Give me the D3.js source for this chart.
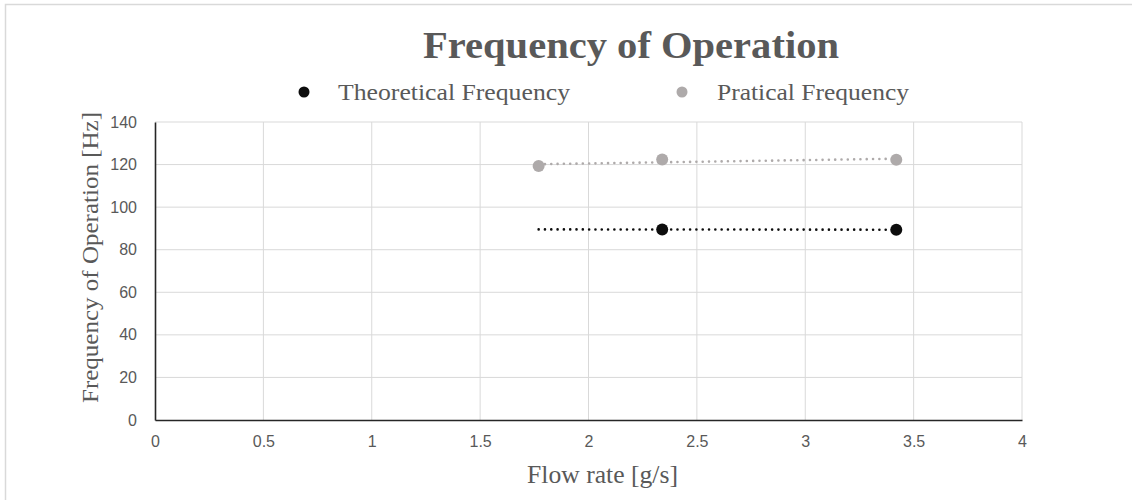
<!DOCTYPE html>
<html>
<head>
<meta charset="utf-8">
<script src="https://cdn.jsdelivr.net/npm/d3@7"></script>
<style>
  html, body { margin: 0; padding: 0; background: #fff; }
  svg { display: block; }
</style>
</head>
<body>
<svg id="chart" width="1132" height="500"></svg>
<script>
// Measured flow rates and operating frequencies
const flowRate = [1.77, 2.34, 3.42];
const theoretical = [null, 89.5, 89.4];
const practical = [119.3, 122.4, 122.3];

const xTicks = [0, 0.5, 1, 1.5, 2, 2.5, 3, 3.5, 4];
const yTicks = [0, 20, 40, 60, 80, 100, 120, 140];

const seriesNames = ["Theoretical Frequency", "Pratical Frequency"];
const seriesColors = ["#0d0d0d", "#aeaaaa"];

const W = 1132, H = 500;
const margin = { left: 155, right: 110, top: 122, bottom: 80 };

const svg = d3.select("#chart");

// Outer chart frame
svg.append("path")
  .attr("d", `M5.5,${H + 2} V4.5 H${W + 2}`)
  .attr("fill", "none")
  .attr("stroke", "#d9d9d9")
  .attr("stroke-width", 1.5);

const x = d3.scaleLinear().domain([0, 4]).range([margin.left, W - margin.right]);
const y = d3.scaleLinear().domain([0, 140]).range([H - margin.bottom, margin.top]);

const serif = "'Liberation Serif', 'DejaVu Serif', serif";
const sans = "'Liberation Sans Narrow', 'Liberation Sans', Arial, sans-serif";
const textColor = "#595959";

// Gridlines
const grid = svg.append("g");
grid.selectAll("line.h").data(yTicks.filter(d => d > 0)).join("line")
  .attr("x1", x(0)).attr("x2", x(4))
  .attr("y1", d => y(d)).attr("y2", d => y(d))
  .attr("stroke", "#d9d9d9").attr("stroke-width", 1);
grid.selectAll("line.v").data(xTicks.filter(d => d > 0)).join("line")
  .attr("y1", y(0)).attr("y2", y(140))
  .attr("x1", d => x(d)).attr("x2", d => x(d))
  .attr("stroke", "#d9d9d9").attr("stroke-width", 1);

// Axes
const xAxis = svg.append("g")
  .attr("transform", `translate(0,${y(0)})`)
  .call(d3.axisBottom(x).tickValues(xTicks).tickSize(0).tickPadding(16).tickFormat(d3.format("")));
const yAxis = svg.append("g")
  .attr("transform", `translate(${x(0)},0)`)
  .call(d3.axisLeft(y).tickValues(yTicks).tickSize(0).tickPadding(18));

[xAxis, yAxis].forEach(a => {
  a.select(".domain").attr("stroke", "#262626").attr("stroke-width", 1.6);
  a.selectAll("text")
    .attr("fill", textColor)
    .style("font-family", sans)
    .style("font-size", "16px");
});

// Least-squares trendline over each series' defined points, drawn across the full flow-rate range
function trend(values) {
  const pts = flowRate.map((fx, i) => [fx, values[i]]).filter(p => p[1] != null);
  const mx = d3.mean(pts, p => p[0]), my = d3.mean(pts, p => p[1]);
  const sxy = d3.sum(pts, p => (p[0] - mx) * (p[1] - my));
  const sxx = d3.sum(pts, p => (p[0] - mx) ** 2);
  const b = sxy / sxx, a = my - b * mx;
  const [lo, hi] = d3.extent(flowRate);
  return [[lo, a + b * lo], [hi, a + b * hi]];
}

const line = d3.line().x(d => x(d[0])).y(d => y(d[1]));
const allSeries = [theoretical, practical];

allSeries.forEach((vals, si) => {
  svg.append("path")
    .datum(trend(vals))
    .attr("d", line)
    .attr("fill", "none")
    .attr("stroke", seriesColors[si])
    .attr("stroke-width", 2.6)
    .attr("stroke-linecap", "round")
    .attr("stroke-dasharray", "0.01 6.3");
});

allSeries.forEach((vals, si) => {
  svg.append("g").selectAll("circle")
    .data(flowRate.map((fx, i) => [fx, vals[i]]).filter(p => p[1] != null))
    .join("circle")
    .attr("cx", d => x(d[0]))
    .attr("cy", d => y(d[1]))
    .attr("r", 6)
    .attr("fill", seriesColors[si]);
});

// Title
svg.append("text")
  .attr("x", 423).attr("y", 58)
  .attr("fill", textColor)
  .attr("textLength", 416)
  .attr("lengthAdjust", "spacingAndGlyphs")
  .style("font-family", serif)
  .style("font-weight", "bold")
  .style("font-size", "37px")
  .text("Frequency of Operation");

// Legend
const legend = [
  { dot: 304, text: 338, width: 232 },
  { dot: 682, text: 717, width: 192 }
];
seriesNames.forEach((name, i) => {
  svg.append("circle")
    .attr("cx", legend[i].dot).attr("cy", 92)
    .attr("r", 5.5)
    .attr("fill", seriesColors[i]);
  svg.append("text")
    .attr("x", legend[i].text).attr("y", 100)
    .attr("fill", textColor)
    .attr("textLength", legend[i].width)
    .attr("lengthAdjust", "spacingAndGlyphs")
    .style("font-family", serif)
    .style("font-size", "24px")
    .text(name);
});

// Axis titles
svg.append("text")
  .attr("x", 527).attr("y", 483)
  .attr("fill", textColor)
  .attr("textLength", 151)
  .attr("lengthAdjust", "spacingAndGlyphs")
  .style("font-family", serif)
  .style("font-size", "25px")
  .text("Flow rate [g/s]");

svg.append("text")
  .attr("transform", `translate(98,403) rotate(-90)`)
  .attr("fill", textColor)
  .attr("textLength", 291)
  .attr("lengthAdjust", "spacingAndGlyphs")
  .style("font-family", serif)
  .style("font-size", "24px")
  .text("Frequency of Operation [Hz]");
</script>
</body>
</html>
